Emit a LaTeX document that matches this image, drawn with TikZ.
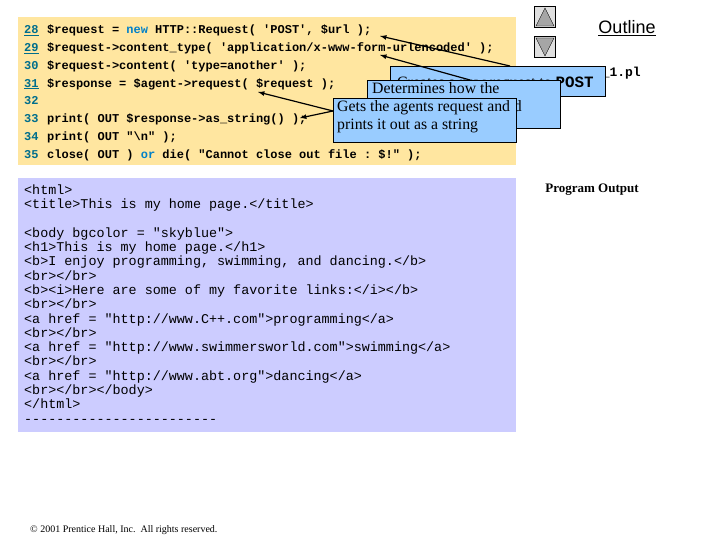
\documentclass[tikz,border=0pt]{standalone}
\usepackage{fontspec}
\setmainfont{Liberation Serif}
\setmonofont{Liberation Mono}
\setsansfont{Liberation Sans}
\definecolor{beige}{RGB}{255,230,160}
\definecolor{lav}{RGB}{204,204,255}
\definecolor{callb}{RGB}{153,204,255}
\definecolor{kw}{RGB}{0,128,200}
\definecolor{ln}{RGB}{0,110,140}
\tikzset{code/.style={anchor=base west,inner sep=0,font=\ttfamily\bfseries\fontsize{12}{12}\selectfont},
outtext/.style={anchor=base west,inner sep=0,font=\ttfamily\fontsize{13.4}{14}\selectfont},
call/.style={draw=black,fill=callb,anchor=north west,inner sep=0,minimum height=#1},
ctext/.style={anchor=base west,inner sep=0,font=\fontsize{15.8}{18}\selectfont},
arr/.style={-latex,line width=1.2pt}}
\begin{document}
\begin{tikzpicture}[x=1pt,y=-1pt]
\useasboundingbox (0,0) rectangle (720,540);
\fill[beige] (18,17) rectangle (516,165);
\fill[lav] (18,178) rectangle (516,432);
\foreach \n/\t [count=\i] in {{\underline{28}}/{\$request = \textcolor{kw}{new} HTTP::Request( 'POST', \$url );},
{\underline{29}}/{\$request->content\_type( 'application/x-www-form-urlencoded' );},
30/{\$request->content( 'type=another' );},
{\underline{31}}/{\$response = \$agent->request( \$request );},
32/{},
33/{print( OUT \$response->as\_string() );},
34/{print( OUT "\textbackslash n" );},
35/{close( OUT ) \textcolor{kw}{or} die( "Cannot close out file : \$!" );}}{
 \node[code,text=ln] (n\i) at (24,{17.9*\i+15.5}) {\n};
 \node[code] (c\i) at (47,{17.9*\i+15.5}) {\t};
}
\foreach \t [count=\i] in {{<html>},{<title>This is my home page.</title>},{},{<body bgcolor = "skyblue">},
{<h1>This is my home page.</h1>},{<b>I enjoy programming, swimming, and dancing.</b>},{<br></br>},
{<b><i>Here are some of my favorite links:</i></b>},{<br></br>},{<a href = "http://www.C++.com">programming</a>},
{<br></br>},{<a href = "http://www.swimmersworld.com">swimming</a>},{<br></br>},
{<a href = "http://www.abt.org">dancing</a>},{<br></br></body>},{</html>},{------------------------}}{
 \node[outtext] (o\i) at (24,{14.3*\i+180}) {\t};
}
% nav buttons
\node[draw,fill=gray!25,minimum width=21,minimum height=21,inner sep=0] (up) at (545,17) {};
\fill[gray!70,draw=black] (536,26) -- (545,8) -- (554,26) -- cycle;
\node[draw,fill=gray!25,minimum width=21,minimum height=21,inner sep=0] (dn) at (545,47) {};
\fill[gray!70,draw=black] (536,38) -- (545,56) -- (554,38) -- cycle;
\node[anchor=base,inner sep=0,font=\sffamily\fontsize{18}{18}\selectfont] (outline) at (627,34) {\underline{Outline}};
\node[anchor=base east,inner sep=0,font=\ttfamily\bfseries\fontsize{13}{13}\selectfont] (fn) at (641,77) {fig20\_1.pl};
\node[anchor=base,inner sep=0,font=\bfseries\fontsize{13}{13}\selectfont] (po) at (592,193) {Program Output};
% callouts
\node[call=30,minimum width=215] (b1) at (390,66) {};
\node[ctext] (t1) at (397,88) {Creates a new request to \texttt{\bfseries POST}};
\node[call=48,minimum width=193] (b2) at (367,80) {};
\node[ctext,align=left,anchor=north west] (t2) at (372,82) {Determines how the\\request will be encoded};
\node[call=44,minimum width=183] (b3) at (333,98) {};
\node[ctext,align=left,anchor=north west] (t3) at (337,100) {Gets the agents request and\\prints it out as a string};
\coordinate (a1) at (380,36);
\coordinate (a2) at (380,55);
\coordinate (a3) at (258,92);
\coordinate (a4) at (300,118);
\draw[arr] (510,66) -- (a1);
\draw[arr] (470,80) -- (a2);
\draw[arr] (333,111) -- (a3);
\draw[arr] (333,111) -- (a4);
\node[anchor=base west,inner sep=0,font=\fontsize{10}{10}\selectfont] (copy) at (30,532) {\textcopyright{} 2001 Prentice Hall, Inc.\ \ All rights reserved.};
\end{tikzpicture}
\end{document}
